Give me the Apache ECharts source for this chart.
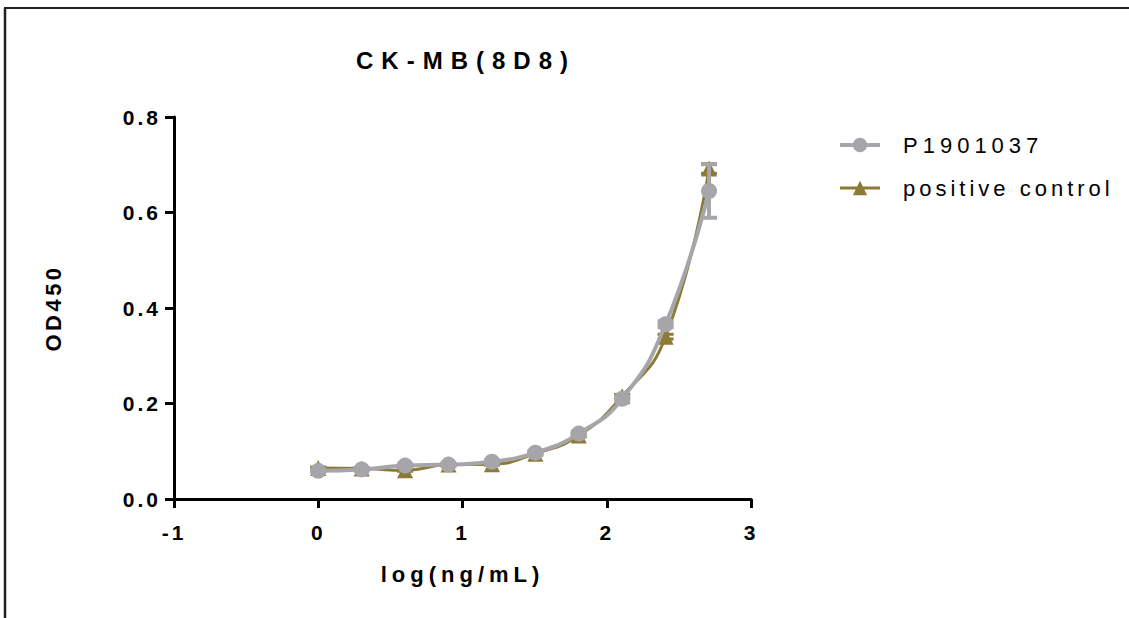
<!DOCTYPE html>
<html>
<head>
<meta charset="utf-8">
<script src="https://cdn.jsdelivr.net/npm/echarts@6/dist/echarts.min.js"></script>
<style>
html,body{margin:0;padding:0;background:#fff;}
#chart{width:1129px;height:618px;}
</style>
</head>
<body>
<div id="chart"></div>
<script>
// ---- data ----
const logConc = [0, 0.301, 0.602, 0.903, 1.204, 1.505, 1.806, 2.107, 2.408, 2.709];
const sampleMean = [0.059, 0.062, 0.070, 0.072, 0.078, 0.097, 0.137, 0.210, 0.366, 0.645];
const sampleSD   = [0.002, 0.002, 0.003, 0.002, 0.003, 0.003, 0.004, 0.005, 0.006, 0.056];
const controlMean = [0.065, 0.064, 0.060, 0.072, 0.073, 0.095, 0.133, 0.215, 0.340, 0.692];
const controlSD   = [0.002, 0.002, 0.002, 0.002, 0.002, 0.003, 0.003, 0.004, 0.005, 0.010];
const seriesNames = ['P1901037', 'positive control'];
const xTicks = [-1, 0, 1, 2, 3];
const yTicks = [0, 0.2, 0.4, 0.6, 0.8];
const titleText = 'CK-MB(8D8)';
const xName = 'log(ng/mL)';
const yName = 'OD450';

const GRAY = '#a6a5aa';
const OLIVE = '#8c7a35';
const FONT = "Arial, 'Liberation Sans', sans-serif";

const samplePts = logConc.map((x, i) => [x, sampleMean[i]]);
const controlPts = logConc.map((x, i) => [x, controlMean[i]]);
const sampleErr = logConc.map((x, i) => [x, sampleMean[i] - sampleSD[i], sampleMean[i] + sampleSD[i]]);
const controlErr = logConc.map((x, i) => [x, controlMean[i] - controlSD[i], controlMean[i] + controlSD[i]]);

function errRender(color, lw) {
  return function (params, api) {
    const x = api.value(0), lo = api.value(1), hi = api.value(2);
    const a = api.coord([x, hi]), b = api.coord([x, lo]);
    const hw = 8;
    const st = { stroke: color, lineWidth: lw };
    return {
      type: 'group',
      children: [
        { type: 'line', shape: { x1: a[0], y1: a[1], x2: b[0], y2: b[1] }, style: st },
        { type: 'line', shape: { x1: a[0] - hw, y1: a[1], x2: a[0] + hw, y2: a[1] }, style: st },
        { type: 'line', shape: { x1: b[0] - hw, y1: b[1], x2: b[0] + hw, y2: b[1] }, style: st }
      ]
    };
  };
}

const chart = echarts.init(document.getElementById('chart'), null, { renderer: 'svg' });
const labelStyle = { color: '#000', fontFamily: FONT, fontWeight: 'bold', fontSize: 21 };

chart.setOption({
  animation: false,
  backgroundColor: '#fff',
  title: {
    text: titleText,
    left: 466,
    top: 48,
    textAlign: 'center',
    padding: 0,
    textStyle: { color: '#000', fontFamily: FONT, fontWeight: 'bold', fontSize: 24 }
  },
  legend: {
    data: [
      { name: seriesNames[0], lineStyle: { width: 4 } },
      { name: seriesNames[1], lineStyle: { width: 3 } }
    ],
    orient: 'vertical',
    left: 838,
    top: 134,
    padding: 0,
    itemWidth: 40,
    itemHeight: 18,
    itemGap: 21,
    textStyle: { color: '#000', fontFamily: FONT, fontSize: 22, padding: [0, 0, 0, 18] }
  },
  grid: { left: 174, right: 378, top: 117, bottom: 119 },
  xAxis: {
    type: 'value',
    min: xTicks[0],
    max: xTicks[xTicks.length - 1],
    interval: 1,
    name: xName,
    nameLocation: 'middle',
    nameGap: 64,
    nameTextStyle: { color: '#000', fontFamily: FONT, fontWeight: 'bold', fontSize: 22 },
    axisLine: { onZero: false, lineStyle: { color: '#000', width: 3 } },
    axisTick: { length: 9, lineStyle: { color: '#000', width: 3 } },
    axisLabel: Object.assign({ margin: 23, formatter: v => String(v) }, labelStyle),
    splitLine: { show: false }
  },
  yAxis: {
    type: 'value',
    min: yTicks[0],
    max: yTicks[yTicks.length - 1],
    interval: 0.2,
    name: yName,
    nameLocation: 'middle',
    nameGap: 110,
    nameTextStyle: { color: '#000', fontFamily: FONT, fontWeight: 'bold', fontSize: 22 },
    axisLine: { onZero: false, lineStyle: { color: '#000', width: 3 } },
    axisTick: { length: 9, lineStyle: { color: '#000', width: 3 } },
    axisLabel: Object.assign({ margin: 13, formatter: v => v.toFixed(1) }, labelStyle),
    splitLine: { show: false }
  },
  graphic: [
    { type: 'line', shape: { x1: 4, y1: 8, x2: 1129, y2: 8 }, style: { stroke: '#222', lineWidth: 2 }, z: 100 },
    { type: 'line', shape: { x1: 5, y1: 8, x2: 5, y2: 618 }, style: { stroke: '#222', lineWidth: 2.5 }, z: 100 }
  ],
  series: [
    {
      name: seriesNames[1],
      type: 'line',
      data: controlPts,
      smooth: 0.5,
      symbol: 'triangle',
      symbolSize: 16,
      itemStyle: { color: OLIVE },
      lineStyle: { color: OLIVE, width: 3 },
      z: 2
    },
    {
      name: seriesNames[1] + ' error',
      type: 'custom',
      data: controlErr,
      encode: { x: 0, y: [1, 2] },
      renderItem: errRender(OLIVE, 3),
      z: 3
    },
    {
      name: seriesNames[0],
      type: 'line',
      data: samplePts,
      smooth: 0.5,
      symbol: 'circle',
      symbolSize: 16,
      itemStyle: { color: GRAY },
      lineStyle: { color: GRAY, width: 4 },
      z: 4
    },
    {
      name: seriesNames[0] + ' error',
      type: 'custom',
      data: sampleErr,
      encode: { x: 0, y: [1, 2] },
      renderItem: errRender(GRAY, 4),
      z: 5
    }
  ]
});

// letter spacing like the original export
function applySpacing() {
  const spacing = {};
  spacing[titleText] = '8px';
  spacing[xName] = '5px';
  spacing[yName] = '3.5px';
  spacing[seriesNames[0]] = '5px';
  spacing[seriesNames[1]] = '4px';
  document.querySelectorAll('#chart text').forEach(t => {
    const s = t.textContent;
    if (spacing[s]) t.style.letterSpacing = spacing[s];
    else t.style.letterSpacing = '3px';
  });
}
chart.on('finished', applySpacing);
applySpacing();
</script>
</body>
</html>
